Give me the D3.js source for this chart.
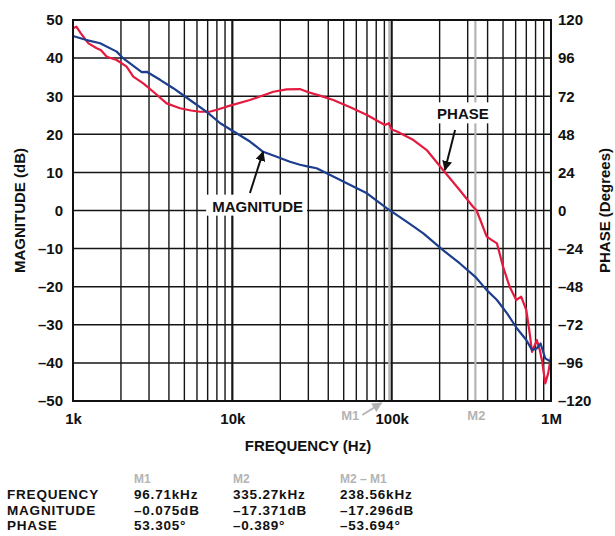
<!DOCTYPE html>
<html>
<head>
<meta charset="utf-8">
<script src="https://cdn.jsdelivr.net/npm/d3@7"></script>
<style>
  body { margin: 0; background: #fff; }
  text { font-family: "Liberation Sans", Arial, Helvetica, sans-serif; font-weight: bold; }
</style>
</head>
<body>
<svg id="chart" width="615" height="536"></svg>
<script>
// magnitude trace (frequency in Hz, dB)
var magFreq = [1000, 1200, 1480, 1880, 2070, 2510, 2700, 2900, 3520, 4260, 5420, 6900, 8400, 10500,
  12900, 15600, 19000, 23000, 26600, 30000, 33800, 43000, 55000, 70000, 93000, 108000, 130000,
  158000, 210000, 268000, 335000, 395000, 458000, 530000, 610000, 700000, 760000, 815000,
  860000, 920000, 1000000];
var magDb = [45.8, 44.8, 43.9, 41.7, 39.9, 37.3, 36.3, 36.4, 34.3, 32.1, 29.0, 25.9, 22.9, 20.4,
  18.1, 15.4, 14.1, 12.8, 12.0, 11.5, 11.1, 8.9, 6.7, 4.5, 0.6, -1.2, -3.5,
  -6.0, -10.4, -13.9, -17.4, -20.9, -23.5, -27.0, -30.9, -34.0, -36.6, -36.2,
  -34.9, -38.8, -39.7];

// phase trace (frequency in Hz, degrees)
var phaseFreq = [1000, 1050, 1120, 1250, 1410, 1500, 1630, 1880, 2170, 2390, 2760, 3190, 3870,
  4690, 5500, 6270, 7200, 8000, 9200, 12900, 18100, 21900, 26500, 30000, 35000, 43000, 55000,
  70000, 90600, 96000, 100000, 108000, 137000, 166000, 210000, 267000, 324000, 340000, 360000,
  395000, 430000, 458000, 500000, 550000, 605000, 650000, 700000, 735000, 760000, 790000,
  815000, 850000, 880000, 920000, 960000, 1000000];
var phaseDeg = [114.8, 115.8, 111.6, 105.3, 102.2, 101.0, 96.9, 94.8, 90.6, 84.3, 80.1, 74.8, 67.5,
  64.4, 63.0, 62.2, 62.2, 63.5, 65.4, 69.6, 74.8, 76.3, 76.5, 74.5, 72.5, 69.6, 65.0,
  60.2, 53.9, 55.0, 51.0, 49.8, 44.4, 38.1, 25.5, 12.9, 2.4, 0.3, -6.0,
  -16.5, -19.0, -20.7, -35.4, -48.0, -56.4, -54.3, -62.7, -77.4, -89.0, -85.0,
  -81.6, -87.9, -95.0, -108.9, -102.6, -92.0];

var magTicks = [50, 40, 30, 20, 10, 0, -10, -20, -30, -40, -50];
var phaseTicks = [120, 96, 72, 48, 24, 0, -24, -48, -72, -96, -120];
var freqTicks = [1e3, 1e4, 1e5, 1e6];
var freqLabels = ["1k", "10k", "100k", "1M"];

var markerNames = ["M1", "M2"];
var markerFreq = [96710, 335270];

var tableHeads = ["M1", "M2", "M2 \u2013 M1"];
var tableRows = ["FREQUENCY", "MAGNITUDE", "PHASE"];
var tableValues = [
  ["96.71kHz", "335.27kHz", "238.56kHz"],
  ["\u20130.075dB", "\u201317.371dB", "\u201317.296dB"],
  ["53.305\u00b0", "\u20130.389\u00b0", "\u201353.694\u00b0"]
];

var blue = "#1d3e8c";
var red = "#e41a3e";
var grey = "#b4b4b4";

var svg = d3.select("#chart"),
  margin = {top: 20, right: 64, bottom: 135, left: 73},
  width = +svg.attr("width") - margin.left - margin.right,
  height = +svg.attr("height") - margin.top - margin.bottom;
var g = svg.append("g").attr("transform", "translate(" + margin.left + "," + margin.top + ")");

var x = d3.scaleLog().domain([1e3, 1e6]).range([0, width]);
var yMag = d3.scaleLinear().domain([-50, 50]).range([height, 0]);
var yPh = d3.scaleLinear().domain([-120, 120]).range([height, 0]);

function dash(d) { return d < 0 ? "\u2013" + Math.abs(d) : "" + d; }

// horizontal gridlines
g.append("g").selectAll("line")
  .data(magTicks)
  .enter().append("line")
  .attr("x1", 0).attr("x2", width)
  .attr("y1", d => yMag(d)).attr("y2", d => yMag(d))
  .attr("stroke", "#151515").attr("stroke-width", 1.5);

// vertical log gridlines
var minor = [];
[1e3, 1e4, 1e5].forEach(function (dec) {
  for (var k = 1; k <= 9; k++) minor.push(dec * k);
});
minor.push(1e6);
g.append("g").selectAll("line")
  .data(minor)
  .enter().append("line")
  .attr("x1", d => x(d)).attr("x2", d => x(d))
  .attr("y1", 0).attr("y2", height)
  .attr("stroke", "#151515")
  .attr("stroke-width", d => (d === 1e4 || d === 1e5) ? 2.2 : 1.4);

// marker lines
g.append("g").selectAll("line")
  .data(markerFreq)
  .enter().append("line")
  .attr("x1", d => x(d)).attr("x2", d => x(d))
  .attr("y1", 0).attr("y2", height)
  .attr("stroke", grey).attr("stroke-width", 2.2);

// traces
var magLine = d3.line()
  .x((d, i) => x(magFreq[i]))
  .y(d => yMag(d));
var phLine = d3.line()
  .x((d, i) => x(phaseFreq[i]))
  .y(d => yPh(d));

g.append("path")
  .attr("d", phLine(phaseDeg))
  .attr("fill", "none").attr("stroke", red).attr("stroke-width", 2.2)
  .attr("stroke-linejoin", "round");
g.append("path")
  .attr("d", magLine(magDb))
  .attr("fill", "none").attr("stroke", blue).attr("stroke-width", 2.2)
  .attr("stroke-linejoin", "round");

// frame
g.append("rect")
  .attr("x", 0).attr("y", 0).attr("width", width).attr("height", height)
  .attr("fill", "none").attr("stroke", "#111").attr("stroke-width", 2);

// left axis
g.append("g")
  .call(d3.axisLeft(yMag).tickValues(magTicks).tickSize(0).tickPadding(10).tickFormat(dash))
  .call(a => a.select(".domain").remove())
  .selectAll("text").attr("font-size", 15).attr("fill", "#111")
  .style("font-family", "'Liberation Sans', Arial, sans-serif").style("font-weight", "bold");

// right axis
g.append("g")
  .attr("transform", "translate(" + width + ",0)")
  .call(d3.axisRight(yPh).tickValues(phaseTicks).tickSize(0).tickPadding(7).tickFormat(dash))
  .call(a => a.select(".domain").remove())
  .selectAll("text").attr("font-size", 15).attr("fill", "#111")
  .style("font-family", "'Liberation Sans', Arial, sans-serif").style("font-weight", "bold");

// bottom axis
g.append("g")
  .attr("transform", "translate(0," + height + ")")
  .call(d3.axisBottom(x).tickValues(freqTicks).tickSize(0).tickPadding(12)
    .tickFormat((d, i) => freqLabels[i]))
  .call(a => a.select(".domain").remove())
  .selectAll("text").attr("font-size", 15).attr("fill", "#111")
  .style("font-family", "'Liberation Sans', Arial, sans-serif").style("font-weight", "bold");

// axis titles
svg.append("text")
  .attr("transform", "translate(25," + (margin.top + height / 2) + ") rotate(-90)")
  .attr("text-anchor", "middle").attr("font-size", 15).attr("fill", "#111")
  .text("MAGNITUDE (dB)");
svg.append("text")
  .attr("transform", "translate(610," + (margin.top + height / 2) + ") rotate(-90)")
  .attr("text-anchor", "middle").attr("font-size", 15).attr("fill", "#111")
  .text("PHASE (Degrees)");
svg.append("text")
  .attr("x", margin.left + x(Math.sqrt(1e3 * 1e6)) - 4)
  .attr("y", margin.top + height + 50)
  .attr("text-anchor", "middle").attr("font-size", 15).attr("fill", "#111")
  .text("FREQUENCY (Hz)");

// marker labels under the axis
var mk = g.append("g").attr("transform", "translate(0," + height + ")");
mk.append("text")
  .attr("x", x(markerFreq[0]) - 30).attr("y", 19)
  .attr("text-anchor", "end").attr("font-size", 13).attr("fill", grey)
  .text(markerNames[0]);
mk.append("text")
  .attr("x", x(markerFreq[1]) + 1).attr("y", 19)
  .attr("text-anchor", "middle").attr("font-size", 13).attr("fill", grey)
  .text(markerNames[1]);

var defs = svg.append("defs");
function arrowHead(id, col) {
  defs.append("marker")
    .attr("id", id).attr("viewBox", "0 0 10 10")
    .attr("refX", 9).attr("refY", 5)
    .attr("markerWidth", 5).attr("markerHeight", 5)
    .attr("orient", "auto")
    .append("path").attr("d", "M0,0 L10,5 L0,10 Z").attr("fill", col);
}
arrowHead("ahBlack", "#111");
arrowHead("ahGrey", grey);

mk.append("line")
  .attr("x1", x(markerFreq[0]) - 27).attr("y1", 14)
  .attr("x2", x(markerFreq[0]) - 8).attr("y2", 2)
  .attr("stroke", grey).attr("stroke-width", 2)
  .attr("marker-end", "url(#ahGrey)");

// callouts
var notes = [
  {text: "MAGNITUDE", tf: 14400, tv: -0.3, af: 12900, av: 4.6, hf: 15600, hv: 15.4, scale: yMag},
  {text: "PHASE", tf: 280000, tv: 57.4, af: 250000, av: 50.7, hf: 216000, hv: 25.5, scale: yPh}
];
notes.forEach(function (n) {
  var t = g.append("text")
    .attr("x", x(n.tf)).attr("y", n.scale(n.tv))
    .attr("text-anchor", "middle").attr("font-size", 15).attr("fill", "#111")
    .text(n.text);
  var bb = t.node().getBBox();
  g.insert("rect", function () { return t.node(); })
    .attr("x", bb.x - 6).attr("y", bb.y - 3)
    .attr("width", bb.width + 10).attr("height", bb.height + 4)
    .attr("fill", "#fff");
  g.append("line")
    .attr("x1", x(n.af)).attr("y1", n.scale(n.av))
    .attr("x2", x(n.hf)).attr("y2", n.scale(n.hv))
    .attr("stroke", "#111").attr("stroke-width", 2)
    .attr("marker-end", "url(#ahBlack)");
});

// marker readout table
var colX = [134, 233, 340];
var rowY = [499, 514.5, 530];
svg.append("g").selectAll("text")
  .data(tableHeads)
  .enter().append("text")
  .attr("x", (d, i) => colX[i]).attr("y", 483)
  .attr("font-size", 12).attr("fill", grey)
  .text(d => d);
svg.append("g").selectAll("text")
  .data(tableRows)
  .enter().append("text")
  .attr("x", 7).attr("y", (d, i) => rowY[i])
  .attr("font-size", 13.5).attr("letter-spacing", 0.8).attr("fill", "#111")
  .text(d => d);
tableValues.forEach(function (row, r) {
  svg.append("g").selectAll("text")
    .data(row)
    .enter().append("text")
    .attr("x", (d, i) => colX[i]).attr("y", rowY[r])
    .attr("font-size", 13.5).attr("letter-spacing", 0.8).attr("fill", "#111")
    .text(d => d);
});
</script>
</body>
</html>
